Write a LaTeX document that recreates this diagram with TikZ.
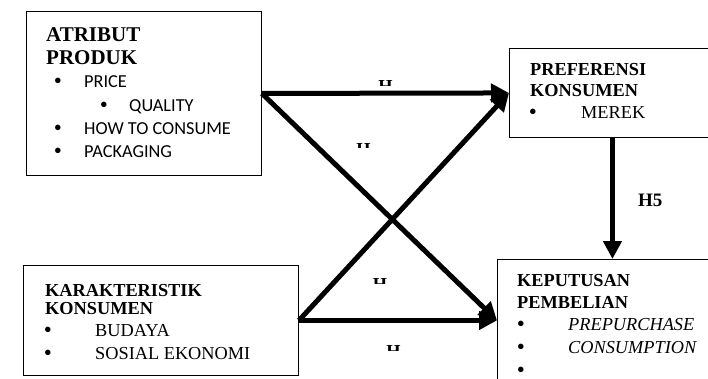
\documentclass[tikz,border=0pt]{standalone}
\usepackage{fontspec}
\setmainfont{Liberation Serif}
\newfontfamily\calibri{Carlito}
\usetikzlibrary{arrows.meta}

\begin{document}
\begin{tikzpicture}[x=1pt, y=-1pt,
    box/.style={draw, line width=0.9pt, anchor=north west, inner sep=0pt},
    link/.style={line width=5pt, -{Triangle[length=18pt,width=18pt]}},
    txt/.style={anchor=base west, inner sep=0pt, font=\fontsize{18.3}{20}\selectfont},
    head/.style={txt, font=\fontsize{18.3}{20}\selectfont\bfseries},
    bighead/.style={txt, font=\fontsize{21}{23}\selectfont\bfseries},
    item/.style={txt, font=\fontsize{18.3}{20}\selectfont\calibri},
    dot/.style={anchor=base, inner sep=0pt, font=\fontsize{23}{20}\selectfont}]
\useasboundingbox (0,0) rectangle (708,379);

% boxes
\node[box, minimum width=235pt, minimum height=164pt] (atribut) at (26,11) {};
\node[box, minimum width=206pt, minimum height=89pt] (preferensi) at (509,48) {};
\node[box, minimum width=275pt, minimum height=110pt] (karakteristik) at (23,265) {};
\node[box, minimum width=218pt, minimum height=122pt] (keputusan) at (497,259) {};

% atribut produk
\node[bighead] (atr1) at (46,42) {ATRIBUT};
\node[bighead] (atr2) at (46,65) {PRODUK};
\node[dot] (atrd1) at (58,89) {•};
\node[item] (price) at (84,88) {PRICE};
\node[dot] (atrd2) at (104,113) {•};
\node[item] (quality) at (129,112) {QUALITY};
\node[dot] (atrd3) at (58,136) {•};
\node[item] (howto) at (84,135) {HOW TO CONSUME};
\node[dot] (atrd4) at (58,159) {•};
\node[item] (packaging) at (84,158) {PACKAGING};

% preferensi konsumen
\node[head] (pref1) at (530,76) {PREFERENSI};
\node[head] (pref2) at (530,97) {KONSUMEN};
\node[dot] (prefd1) at (533,120) {•};
\node[txt] (merek) at (581,119) {MEREK};

% karakteristik konsumen
\node[head] (kar1) at (45,296) {KARAKTERISTIK};
\node[head] (kar2) at (45,314) {KONSUMEN};
\node[dot] (kard1) at (48,337) {•};
\node[txt] (budaya) at (95,336) {BUDAYA};
\node[dot] (kard2) at (48,360) {•};
\node[txt] (sosial) at (95,359) {SOSIAL EKONOMI};

% keputusan pembelian
\node[head] (kep1) at (517,286) {KEPUTUSAN};
\node[head] (kep2) at (517,308) {PEMBELIAN};
\node[dot] (kepd1) at (521,331) {•};
\node[txt, font=\fontsize{18.3}{20}\selectfont\itshape] (prepurchase) at (568,330) {PREPURCHASE};
\node[dot] (kepd2) at (521,354) {•};
\node[txt, font=\fontsize{18.3}{20}\selectfont\itshape] (consumption) at (568,353) {CONSUMPTION};
\node[dot] (kepd3) at (521,377) {•};

% arrows
\draw[link] (atribut.east) -- (preferensi.west);
\draw[link] (atribut.east) -- (keputusan.west);
\draw[link] (karakteristik.east) -- (keputusan.west);
\draw[link] (karakteristik.east) -- (preferensi.west);
\draw[link] (preferensi.south) -- (preferensi.south |- keputusan.north);
\node[head, font=\fontsize{19}{21}\selectfont\bfseries] (h5) at (638,207) {H5};

% cut off labels
\begin{scope}
  \clip (370,79) rectangle (400,86);
  \node[anchor=north, inner sep=0pt, font=\fontsize{18.3}{20}\selectfont\bfseries] (h1) at (385.5,80) {H};
\end{scope}
\begin{scope}
  \clip (348,142) rectangle (380,148);
  \node[anchor=north, inner sep=0pt, font=\fontsize{18.3}{20}\selectfont\bfseries] (h2) at (363.5,143) {H};
\end{scope}
\begin{scope}
  \clip (365,277) rectangle (395,283);
  \node[anchor=north, inner sep=0pt, font=\fontsize{18.3}{20}\selectfont\bfseries] (h3) at (380,278) {H};
\end{scope}
\begin{scope}
  \clip (378,344) rectangle (410,350);
  \node[anchor=north, inner sep=0pt, font=\fontsize{18.3}{20}\selectfont\bfseries] (h4) at (393.5,345) {H};
\end{scope}
\end{tikzpicture}
\end{document}
